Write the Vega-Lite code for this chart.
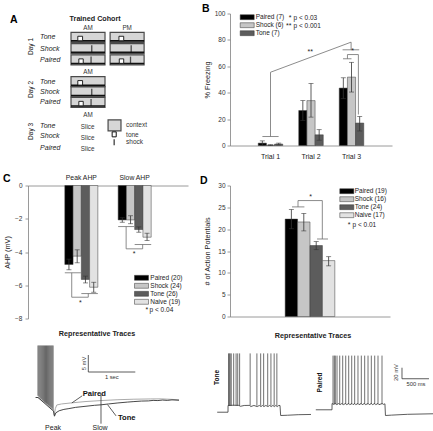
{
"$schema":"https://vega.github.io/schema/vega-lite/v6.json",
"background":"white",
"padding":{"left":2,"top":3.5,"right":0,"bottom":0},
"bounds":"flush",
"columns":2,
"spacing":{"row":0,"column":42},
"resolve":{"scale":{"color":"independent","xOffset":"independent"},"legend":{"color":"independent"}},
"datasets":{
 "freezing":[
  {"trial":"Trial 1","group":"Paired (7)","mean":1.8,"lo":0.2,"hi":3.5},
  {"trial":"Trial 1","group":"Shock (6)","mean":0.3,"lo":0,"hi":0.6},
  {"trial":"Trial 1","group":"Tone (7)","mean":1.1,"lo":0.4,"hi":1.8},
  {"trial":"Trial 2","group":"Paired (7)","mean":26.5,"lo":19,"hi":34},
  {"trial":"Trial 2","group":"Shock (6)","mean":34,"lo":21.5,"hi":47},
  {"trial":"Trial 2","group":"Tone (7)","mean":8.1,"lo":4,"hi":12},
  {"trial":"Trial 3","group":"Paired (7)","mean":43.5,"lo":35.5,"hi":51.3},
  {"trial":"Trial 3","group":"Shock (6)","mean":51.8,"lo":40.5,"hi":63},
  {"trial":"Trial 3","group":"Tone (7)","mean":17,"lo":11,"hi":22}
 ],
 "ahp":[
  {"phase":"Peak AHP","group":"Paired (20)","mean":-4.75,"lo":-5.07,"hi":-4.43},
  {"phase":"Peak AHP","group":"Shock (24)","mean":-4.25,"lo":-4.65,"hi":-3.87},
  {"phase":"Peak AHP","group":"Tone (26)","mean":-5.65,"lo":-5.86,"hi":-5.45},
  {"phase":"Peak AHP","group":"Naive (19)","mean":-6.12,"lo":-6.42,"hi":-5.82},
  {"phase":"Slow AHP","group":"Paired (20)","mean":-2.07,"lo":-2.21,"hi":-1.94},
  {"phase":"Slow AHP","group":"Shock (24)","mean":-2.07,"lo":-2.3,"hi":-1.82},
  {"phase":"Slow AHP","group":"Tone (26)","mean":-2.65,"lo":-2.81,"hi":-2.49},
  {"phase":"Slow AHP","group":"Naive (19)","mean":-3.11,"lo":-3.31,"hi":-2.87}
 ],
 "aps":[
  {"cat":"all","group":"Paired (19)","mean":22.3,"lo":20.1,"hi":24.5},
  {"cat":"all","group":"Shock (16)","mean":21.65,"lo":19.6,"hi":23.6},
  {"cat":"all","group":"Tone (24)","mean":16.25,"lo":15.3,"hi":17.15},
  {"cat":"all","group":"Naive (17)","mean":12.8,"lo":11.6,"hi":13.7}
 ],
 "aBoxes":[
  {"day":"Day 1","protocol":"Tone","session":"AM","row":1.75,"start":0,"end":10,"toneOn":2.0,"toneOff":3.4,"shock":null},
  {"day":"Day 1","protocol":"Shock","session":"AM","row":2.8,"start":0,"end":10,"toneOn":null,"toneOff":null,"shock":6.1},
  {"day":"Day 1","protocol":"Paired","session":"AM","row":3.85,"start":0,"end":10,"toneOn":2.3,"toneOff":3.6,"shock":5.9},
  {"day":"Day 1","protocol":"Tone","session":"PM","row":1.75,"start":11.5,"end":21.5,"toneOn":14.1,"toneOff":15.5,"shock":null},
  {"day":"Day 1","protocol":"Shock","session":"PM","row":2.8,"start":11.5,"end":21.5,"toneOn":null,"toneOff":null,"shock":17.7},
  {"day":"Day 1","protocol":"Paired","session":"PM","row":3.85,"start":11.5,"end":21.5,"toneOn":14.2,"toneOff":15.5,"shock":17.5},
  {"day":"Day 2","protocol":"Tone","session":"AM","row":5.87,"start":0,"end":10,"toneOn":2.0,"toneOff":3.4,"shock":null},
  {"day":"Day 2","protocol":"Shock","session":"AM","row":6.83,"start":0,"end":10,"toneOn":null,"toneOff":null,"shock":6.1},
  {"day":"Day 2","protocol":"Paired","session":"AM","row":7.8,"start":0,"end":10,"toneOn":2.3,"toneOff":3.6,"shock":5.9}
 ],
 "leftTraces":[
  {"trace":"Paired","t":-0.05,"v":0},{"trace":"Paired","t":0.0,"v":0},{"trace":"Paired","t":0.33,"v":-3.5},{"trace":"Paired","t":0.345,"v":-5.2},{"trace":"Paired","t":0.37,"v":-3.2},{"trace":"Paired","t":0.4,"v":-2.2},{"trace":"Paired","t":0.5,"v":-1.9},{"trace":"Paired","t":0.7,"v":-1.6},{"trace":"Paired","t":1.0,"v":-1.2},{"trace":"Paired","t":1.34,"v":-0.9},{"trace":"Paired","t":1.7,"v":-0.65},{"trace":"Paired","t":2.04,"v":-0.5},{"trace":"Paired","t":2.4,"v":-0.42},{"trace":"Paired","t":2.62,"v":-0.4},{"trace":"Paired","t":2.85,"v":-0.55},{"trace":"Paired","t":3.0,"v":-0.7},
  {"trace":"Tone","t":-0.05,"v":0},{"trace":"Tone","t":0.0,"v":0},{"trace":"Tone","t":0.33,"v":-4.0},{"trace":"Tone","t":0.35,"v":-5.5},{"trace":"Tone","t":0.38,"v":-4.5},{"trace":"Tone","t":0.45,"v":-3.9},{"trace":"Tone","t":0.55,"v":-3.5},{"trace":"Tone","t":0.64,"v":-3.3},{"trace":"Tone","t":0.8,"v":-2.9},{"trace":"Tone","t":1.0,"v":-2.6},{"trace":"Tone","t":1.2,"v":-2.3},{"trace":"Tone","t":1.34,"v":-2.15},{"trace":"Tone","t":1.5,"v":-1.9},{"trace":"Tone","t":1.7,"v":-1.6},{"trace":"Tone","t":1.9,"v":-1.35},{"trace":"Tone","t":2.04,"v":-1.2},{"trace":"Tone","t":2.2,"v":-1.05},{"trace":"Tone","t":2.35,"v":-1.0},{"trace":"Tone","t":2.45,"v":-0.85},{"trace":"Tone","t":2.55,"v":-0.9},{"trace":"Tone","t":2.65,"v":-0.75},{"trace":"Tone","t":2.75,"v":-0.85},{"trace":"Tone","t":2.85,"v":-0.7},{"trace":"Tone","t":3.0,"v":-0.8}
 ],
 "leftBurst":[
  {"t":0.0,"lo":0.5,"hi":15.3},{"t":0.02,"lo":0.2,"hi":15.3},{"t":0.04,"lo":-0.1,"hi":15.3},{"t":0.06,"lo":-0.4,"hi":15.3},{"t":0.08,"lo":-0.6,"hi":15.3},{"t":0.1,"lo":-0.9,"hi":15.3},{"t":0.12,"lo":-1.1,"hi":15.3},{"t":0.14,"lo":-1.4,"hi":15.3},{"t":0.16,"lo":-1.6,"hi":15.3},{"t":0.18,"lo":-1.9,"hi":15.3},{"t":0.2,"lo":-2.1,"hi":15.3},{"t":0.22,"lo":-2.4,"hi":15.3},{"t":0.24,"lo":-2.6,"hi":15.3},{"t":0.26,"lo":-2.9,"hi":15.3},{"t":0.28,"lo":-3.1,"hi":15.3},{"t":0.3,"lo":-3.4,"hi":15.3},{"t":0.32,"lo":-3.7,"hi":15.3}
 ],
 "toneTrace":[
  {"t":-0.2,"v":-64.7},{"t":0,"v":-64.7},{"t":0.001,"v":-52.5},{"t":0.1,"v":-52},{"t":0.2,"v":-52.3},{"t":0.23,"v":-54},{"t":0.3,"v":-52.5},{"t":0.4,"v":-52.3},{"t":0.42,"v":-54.5},{"t":0.48,"v":-52.5},{"t":0.54,"v":-54.5},{"t":0.58,"v":-52.5},{"t":0.61,"v":-54.5},{"t":0.64,"v":-52.5},{"t":0.665,"v":-54.5},{"t":0.7,"v":-52.5},{"t":0.74,"v":-54.5},{"t":0.77,"v":-52.5},{"t":0.8,"v":-54.5},{"t":0.83,"v":-52.5},{"t":0.86,"v":-54.5},{"t":0.885,"v":-52.5},{"t":0.91,"v":-54.5},{"t":0.94,"v":-52.5},{"t":0.963,"v":-52.5},{"t":0.975,"v":-70.7},{"t":1.1,"v":-70.2},{"t":1.3,"v":-69.2},{"t":1.537,"v":-68.8}
 ],
 "toneSpikes":[
  {"t":0.01,"lo":-53,"hi":42},{"t":0.025,"lo":-53,"hi":42},{"t":0.04,"lo":-53,"hi":42},{"t":0.06,"lo":-53,"hi":42},{"t":0.105,"lo":-53,"hi":42},{"t":0.15,"lo":-53,"hi":42},{"t":0.18,"lo":-53,"hi":42},{"t":0.215,"lo":-53,"hi":42},{"t":0.41,"lo":-53,"hi":42},{"t":0.535,"lo":-53,"hi":42},{"t":0.605,"lo":-53,"hi":42},{"t":0.66,"lo":-53,"hi":42},{"t":0.735,"lo":-53,"hi":42},{"t":0.795,"lo":-53,"hi":42},{"t":0.855,"lo":-53,"hi":42},{"t":0.905,"lo":-53,"hi":42}
 ],
 "pairedTrace":[
  {"t":-0.3,"v":-60.3},{"t":0,"v":-60.3},{"t":0.001,"v":-49},{"t":0.03,"v":-50.5},{"t":0.06,"v":-49},{"t":0.09,"v":-51},{"t":0.12,"v":-49},{"t":0.15,"v":-51},{"t":0.18,"v":-49},{"t":0.21,"v":-51},{"t":0.25,"v":-49},{"t":0.27,"v":-51},{"t":0.31,"v":-49},{"t":0.33,"v":-51},{"t":0.37,"v":-49},{"t":0.39,"v":-51},{"t":0.42,"v":-49},{"t":0.44,"v":-51},{"t":0.48,"v":-49},{"t":0.5,"v":-51},{"t":0.54,"v":-49},{"t":0.56,"v":-51},{"t":0.6,"v":-49},{"t":0.62,"v":-51},{"t":0.67,"v":-49},{"t":0.69,"v":-51},{"t":0.73,"v":-49},{"t":0.75,"v":-51},{"t":0.79,"v":-49},{"t":0.81,"v":-51},{"t":0.85,"v":-49},{"t":0.87,"v":-51},{"t":0.93,"v":-49},{"t":0.95,"v":-50.5},{"t":0.98,"v":-49.5},{"t":0.99,"v":-70.7},{"t":1.1,"v":-70},{"t":1.4,"v":-68.5},{"t":1.89,"v":-67.5}
 ],
 "pairedSpikes":[
  {"t":0.019,"lo":-50,"hi":38},{"t":0.043,"lo":-50,"hi":38},{"t":0.061,"lo":-50,"hi":38},{"t":0.093,"lo":-50,"hi":38},{"t":0.143,"lo":-50,"hi":38},{"t":0.198,"lo":-50,"hi":38},{"t":0.254,"lo":-50,"hi":38},{"t":0.309,"lo":-50,"hi":38},{"t":0.365,"lo":-50,"hi":38},{"t":0.42,"lo":-50,"hi":38},{"t":0.481,"lo":-50,"hi":38},{"t":0.543,"lo":-50,"hi":38},{"t":0.605,"lo":-50,"hi":38},{"t":0.667,"lo":-50,"hi":38},{"t":0.728,"lo":-50,"hi":38},{"t":0.791,"lo":-50,"hi":38},{"t":0.852,"lo":-50,"hi":38},{"t":0.926,"lo":-50,"hi":38}
 ]
},
"concat":[
  {"width":160,"height":172,"layer":[
   {"data":{"name":"aBoxes"},"mark":{"type":"bar","height":10,"fill":"#d6d6d6","stroke":"#4a4a4a","strokeWidth":1.2},
    "encoding":{"x":{"field":"start","type":"quantitative","scale":{"domain":[-12.65,34.41],"nice":false,"zero":false},"axis":null},"x2":{"field":"end"},"y":{"field":"row","type":"quantitative","scale":{"domain":[0,15.06],"nice":false,"zero":false,"reverse":true},"axis":null}}},
   {"data":{"name":"aBoxes"},"mark":{"type":"rule","yOffset":3.6,"strokeWidth":1.6,"color":"#111111"},
    "encoding":{"x":{"field":"start","type":"quantitative","scale":{"domain":[-12.65,34.41],"nice":false,"zero":false},"axis":null},"x2":{"field":"end"},"y":{"field":"row","type":"quantitative","scale":{"domain":[0,15.06],"nice":false,"zero":false,"reverse":true},"axis":null}}},
   {"data":{"name":"aBoxes"},"transform":[{"filter":"datum.toneOn != null"}],"mark":{"type":"bar","height":4.5,"yOffset":1.2,"fill":"white","stroke":"#111111","strokeWidth":0.9},
    "encoding":{"x":{"field":"toneOn","type":"quantitative","scale":{"domain":[-12.65,34.41],"nice":false,"zero":false},"axis":null},"x2":{"field":"toneOff"},"y":{"field":"row","type":"quantitative","scale":{"domain":[0,15.06],"nice":false,"zero":false,"reverse":true},"axis":null}}},
   {"data":{"name":"aBoxes"},"transform":[{"filter":"datum.shock != null"}],"mark":{"type":"tick","orient":"vertical","size":7,"thickness":1.3,"color":"#111111","yOffset":0.2},
    "encoding":{"x":{"field":"shock","type":"quantitative","scale":{"domain":[-12.65,34.41],"nice":false,"zero":false},"axis":null},"y":{"field":"row","type":"quantitative","scale":{"domain":[0,15.06],"nice":false,"zero":false,"reverse":true},"axis":null}}},
   {"data":{"values":[{"item":"context","x1":10.9,"x2":14.7,"row":9.94}]},"mark":{"type":"bar","height":11,"fill":"#d6d6d6","stroke":"#4a4a4a","strokeWidth":1.2},
    "encoding":{"x":{"field":"x1","type":"quantitative","scale":{"domain":[-12.65,34.41],"nice":false,"zero":false},"axis":null},"x2":{"field":"x2"},"y":{"field":"row","type":"quantitative","scale":{"domain":[0,15.06],"nice":false,"zero":false,"reverse":true},"axis":null}}},
   {"data":{"values":[{"item":"tone","x1":12.1,"x2":13.3,"row":10.77}]},"mark":{"type":"bar","height":5,"fill":"white","stroke":"#111111","strokeWidth":1},
    "encoding":{"x":{"field":"x1","type":"quantitative","scale":{"domain":[-12.65,34.41],"nice":false,"zero":false},"axis":null},"x2":{"field":"x2"},"y":{"field":"row","type":"quantitative","scale":{"domain":[0,15.06],"nice":false,"zero":false,"reverse":true},"axis":null}}},
   {"data":{"values":[{"item":"shock","x":12.7,"row":11.5}]},"mark":{"type":"tick","orient":"vertical","size":6,"thickness":1.5,"color":"#111111"},
    "encoding":{"x":{"field":"x","type":"quantitative","scale":{"domain":[-12.65,34.41],"nice":false,"zero":false},"axis":null},"y":{"field":"row","type":"quantitative","scale":{"domain":[0,15.06],"nice":false,"zero":false,"reverse":true},"axis":null}}},
   {"data":{"values":[{"label":"Tone","x":-9.1,"row":1.75},{"label":"Shock","x":-9.1,"row":2.8},{"label":"Paired","x":-9.1,"row":3.85},{"label":"Tone","x":-9.1,"row":5.87},{"label":"Shock","x":-9.1,"row":6.83},{"label":"Paired","x":-9.1,"row":7.8},{"label":"Tone","x":-9.1,"row":9.96},{"label":"Shock","x":-9.1,"row":10.92},{"label":"Paired","x":-9.1,"row":12.06}]},
    "mark":{"type":"text","align":"left","baseline":"middle","fontStyle":"italic","fontSize":7,"color":"#222222"},
    "encoding":{"x":{"field":"x","type":"quantitative","scale":{"domain":[-12.65,34.41],"nice":false,"zero":false},"axis":null},"y":{"field":"row","type":"quantitative","scale":{"domain":[0,15.06],"nice":false,"zero":false,"reverse":true},"axis":null},"text":{"field":"label"}}},
   {"data":{"values":[{"label":"Day 1","x":-11.8,"row":2.6},{"label":"Day 2","x":-11.8,"row":6.6},{"label":"Day 3","x":-11.8,"row":10.5}]},
    "mark":{"type":"text","align":"center","baseline":"middle","angle":270,"fontSize":6.5,"color":"#111111"},
    "encoding":{"x":{"field":"x","type":"quantitative","scale":{"domain":[-12.65,34.41],"nice":false,"zero":false},"axis":null},"y":{"field":"row","type":"quantitative","scale":{"domain":[0,15.06],"nice":false,"zero":false,"reverse":true},"axis":null},"text":{"field":"label"}}},
   {"data":{"values":[{"label":"Trained Cohort","x":7.1,"row":0}]},
    "mark":{"type":"text","align":"center","baseline":"middle","fontWeight":"bold","fontSize":7.2,"color":"#222222"},
    "encoding":{"x":{"field":"x","type":"quantitative","scale":{"domain":[-12.65,34.41],"nice":false,"zero":false},"axis":null},"y":{"field":"row","type":"quantitative","scale":{"domain":[0,15.06],"nice":false,"zero":false,"reverse":true},"axis":null},"text":{"field":"label"}}},
   {"data":{"values":[{"label":"AM","x":5,"row":0.9},{"label":"PM","x":16.5,"row":0.9},{"label":"AM","x":5,"row":5.0},{"label":"AM","x":5,"row":9.0},{"label":"Slice","x":4.9,"row":10.1},{"label":"Slice","x":4.9,"row":11.1},{"label":"Slice","x":4.9,"row":12.15}]},
    "mark":{"type":"text","align":"center","baseline":"middle","fontSize":6.3,"color":"#333333"},
    "encoding":{"x":{"field":"x","type":"quantitative","scale":{"domain":[-12.65,34.41],"nice":false,"zero":false},"axis":null},"y":{"field":"row","type":"quantitative","scale":{"domain":[0,15.06],"nice":false,"zero":false,"reverse":true},"axis":null},"text":{"field":"label"}}},
   {"data":{"values":[{"label":"context","x":16.2,"row":9.94},{"label":"tone","x":16.2,"row":10.87},{"label":"shock","x":16.2,"row":11.5}]},
    "mark":{"type":"text","align":"left","baseline":"middle","fontSize":6.5,"color":"#333333"},
    "encoding":{"x":{"field":"x","type":"quantitative","scale":{"domain":[-12.65,34.41],"nice":false,"zero":false},"axis":null},"y":{"field":"row","type":"quantitative","scale":{"domain":[0,15.06],"nice":false,"zero":false,"reverse":true},"axis":null},"text":{"field":"label"}}},
   {"data":{"values":[{"label":"A","x":-17.94,"row":-0.31}]},
    "mark":{"type":"text","align":"left","baseline":"top","fontWeight":"bold","fontSize":10.5,"color":"#000000"},
    "encoding":{"x":{"field":"x","type":"quantitative","scale":{"domain":[-12.65,34.41],"nice":false,"zero":false},"axis":null},"y":{"field":"row","type":"quantitative","scale":{"domain":[0,15.06],"nice":false,"zero":false,"reverse":true},"axis":null},"text":{"field":"label"}}}
  ]},
  {"width":162,"height":132,
   "resolve":{"scale":{"x":"independent"},"axis":{"x":"independent"}},
   "layer":[
    {"data":{"name":"freezing"},
     "encoding":{
      "x":{"field":"trial","type":"nominal","scale":{"type":"band","paddingInner":0.395,"paddingOuter":0.6975},"axis":{"title":null,"labelAngle":0,"ticks":false,"tickSize":0,"labelFontSize":7,"labelColor":"#222222","labelPadding":6.5}},
      "xOffset":{"field":"group","type":"nominal","sort":["Paired (7)","Shock (6)","Tone (7)"],"scale":{"paddingInner":0,"paddingOuter":0}}
     },
     "layer":[
      {"mark":{"type":"bar","stroke":"#3a3a3a","strokeWidth":0.5},
       "encoding":{"y":{"field":"mean","type":"quantitative","scale":{"domain":[0,100],"nice":false},"axis":{"title":"% Freezing","values":[0,20,40,60,80,100],"titlePadding":3,"labelPadding":2,"labelOverlap":false,"labelFlush":false,"zindex":1}},
        "color":{"field":"group","type":"nominal","scale":{"domain":["Paired (7)","Shock (6)","Tone (7)"],"range":["#000000","#c6c6c6","#5c5c5c"]},"legend":{"title":null,"orient":"none","legendX":13.2,"legendY":-0.3,"labelOffset":4.5}}}},
      {"mark":{"type":"rule","color":"#333333","strokeWidth":0.8},
       "encoding":{"y":{"field":"lo","type":"quantitative","scale":{"domain":[0,100],"nice":false},"axis":{"title":"% Freezing","values":[0,20,40,60,80,100],"titlePadding":3,"labelPadding":2,"labelOverlap":false,"labelFlush":false,"zindex":1}},"y2":{"field":"hi"}}},
      {"mark":{"type":"tick","color":"#333333","thickness":0.8,"size":5},
       "encoding":{"y":{"field":"hi","type":"quantitative","scale":{"domain":[0,100],"nice":false},"axis":{"title":"% Freezing","values":[0,20,40,60,80,100],"titlePadding":3,"labelPadding":2,"labelOverlap":false,"labelFlush":false,"zindex":1}}}},
      {"mark":{"type":"tick","color":"#333333","thickness":0.8,"size":5},
       "encoding":{"y":{"field":"lo","type":"quantitative","scale":{"domain":[0,100],"nice":false},"axis":{"title":"% Freezing","values":[0,20,40,60,80,100],"titlePadding":3,"labelPadding":2,"labelOverlap":false,"labelFlush":false,"zindex":1}}}}
     ]},
    {"data":{"values":[
      {"x":0.8,"x2":1.2,"y":6.8,"y2":6.8},{"x":1.0,"x2":1.0,"y":6.8,"y2":55.5},{"x":1.0,"x2":2.99,"y":55.5,"y2":78.3},{"x":2.99,"x2":2.99,"y":78.3,"y2":72.5},{"x":2.78,"x2":3.19,"y":72.5,"y2":72.5},
      {"x":2.79,"x2":3.0,"y":65.7,"y2":65.7},{"x":2.9,"x2":2.9,"y":65.7,"y2":68.9},{"x":2.9,"x2":3.17,"y":68.9,"y2":68.9},{"x":3.17,"x2":3.17,"y":68.9,"y2":23.5}]},
     "mark":{"type":"rule","color":"#6e6e6e","strokeWidth":0.8},
     "encoding":{"x":{"field":"x","type":"quantitative","scale":{"domain":[0,4],"nice":false,"zero":false},"axis":null},"x2":{"field":"x2"},"y":{"field":"y","type":"quantitative","scale":{"domain":[0,100],"nice":false},"axis":{"title":"% Freezing","values":[0,20,40,60,80,100],"titlePadding":3,"labelPadding":2,"labelOverlap":false,"labelFlush":false,"zindex":1}},"y2":{"field":"y2"}}},
    {"data":{"values":[{"x":1.98,"y":70.7,"label":"**"},{"x":3.03,"y":71.5,"label":"*"}]},
     "mark":{"type":"text","align":"center","baseline":"middle","fontSize":7,"color":"#222222"},
     "encoding":{"x":{"field":"x","type":"quantitative","scale":{"domain":[0,4],"nice":false,"zero":false},"axis":null},"y":{"field":"y","type":"quantitative","scale":{"domain":[0,100],"nice":false},"axis":{"title":"% Freezing","values":[0,20,40,60,80,100],"titlePadding":3,"labelPadding":2,"labelOverlap":false,"labelFlush":false,"zindex":1}},"text":{"field":"label"}}},
    {"data":{"values":[{"x":1.52,"y":96.7,"label":"*"},{"x":1.52,"y":90.4,"label":"**"}]},
     "mark":{"type":"text","align":"right","baseline":"middle","fontSize":7,"color":"#222222"},
     "encoding":{"x":{"field":"x","type":"quantitative","scale":{"domain":[0,4],"nice":false,"zero":false},"axis":null},"y":{"field":"y","type":"quantitative","scale":{"domain":[0,100],"nice":false},"axis":{"title":"% Freezing","values":[0,20,40,60,80,100],"titlePadding":3,"labelPadding":2,"labelOverlap":false,"labelFlush":false,"zindex":1}},"text":{"field":"label"}}},
    {"data":{"values":[{"x":1.568,"y":96.7,"label":"p < 0.03"},{"x":1.568,"y":90.4,"label":"p < 0.001"}]},
     "mark":{"type":"text","align":"left","baseline":"middle","fontSize":6.5,"color":"#222222"},
     "encoding":{"x":{"field":"x","type":"quantitative","scale":{"domain":[0,4],"nice":false,"zero":false},"axis":null},"y":{"field":"y","type":"quantitative","scale":{"domain":[0,100],"nice":false},"axis":{"title":"% Freezing","values":[0,20,40,60,80,100],"titlePadding":3,"labelPadding":2,"labelOverlap":false,"labelFlush":false,"zindex":1}},"text":{"field":"label"}}},
    {"data":{"values":[{"x":-0.69,"y":107.2,"label":"B"}]},
     "mark":{"type":"text","align":"left","baseline":"top","fontWeight":"bold","fontSize":10.5,"color":"#000000"},
     "encoding":{"x":{"field":"x","type":"quantitative","scale":{"domain":[0,4],"nice":false,"zero":false},"axis":null},"y":{"field":"y","type":"quantitative","scale":{"domain":[0,100],"nice":false},"axis":{"title":"% Freezing","values":[0,20,40,60,80,100],"titlePadding":3,"labelPadding":2,"labelOverlap":false,"labelFlush":false,"zindex":1}},"text":{"field":"label"}}}
   ]},
  {"width":160,"height":133,
   "resolve":{"scale":{"x":"independent"},"axis":{"x":"independent"}},
   "layer":[
    {"data":{"name":"ahp"},
     "encoding":{
      "x":{"field":"phase","type":"nominal","scale":{"type":"band","paddingInner":0.381,"paddingOuter":0.69},"axis":{"orient":"top","title":null,"labelAngle":0,"ticks":false,"tickSize":0,"labelFontSize":6.8,"labelColor":"#222222","labelPadding":5}},
      "xOffset":{"field":"group","type":"nominal","sort":["Paired (20)","Shock (24)","Tone (26)","Naive (19)"],"scale":{"paddingInner":0,"paddingOuter":0}}
     },
     "layer":[
      {"mark":{"type":"bar","stroke":"#3a3a3a","strokeWidth":0.5},
       "encoding":{"y":{"field":"mean","type":"quantitative","scale":{"domain":[-8,0],"nice":false},"axis":{"title":"AHP (mV)","values":[0,-2,-4,-6,-8],"labelPadding":3,"titlePadding":3,"labelOverlap":false,"labelFlush":false}},
        "color":{"field":"group","type":"nominal","scale":{"domain":["Paired (20)","Shock (24)","Tone (26)","Naive (19)"],"range":["#000000","#c6c6c6","#5c5c5c","#e2e2e2"]},"legend":{"title":null,"orient":"none","legendX":109.5,"legendY":88.3,"labelOffset":4.8}}}},
      {"mark":{"type":"rule","color":"#333333","strokeWidth":0.8},
       "encoding":{"y":{"field":"lo","type":"quantitative","scale":{"domain":[-8,0],"nice":false},"axis":{"title":"AHP (mV)","values":[0,-2,-4,-6,-8],"labelPadding":3,"titlePadding":3,"labelOverlap":false,"labelFlush":false}},"y2":{"field":"hi"}}},
      {"mark":{"type":"tick","color":"#333333","thickness":0.8,"size":5},
       "encoding":{"y":{"field":"hi","type":"quantitative","scale":{"domain":[-8,0],"nice":false},"axis":{"title":"AHP (mV)","values":[0,-2,-4,-6,-8],"labelPadding":3,"titlePadding":3,"labelOverlap":false,"labelFlush":false}}}},
      {"mark":{"type":"tick","color":"#333333","thickness":0.8,"size":5},
       "encoding":{"y":{"field":"lo","type":"quantitative","scale":{"domain":[-8,0],"nice":false},"axis":{"title":"AHP (mV)","values":[0,-2,-4,-6,-8],"labelPadding":3,"titlePadding":3,"labelOverlap":false,"labelFlush":false}}}}
     ]},
    {"data":{"values":[
      {"x":0.69,"x2":0.99,"y":-5.25,"y2":-5.25},{"x":0.82,"x2":0.82,"y":-5.25,"y2":-6.72},{"x":0.82,"x2":1.13,"y":-6.72,"y2":-6.72},{"x":1.13,"x2":1.13,"y":-6.72,"y2":-6.5},{"x":1.0,"x2":1.31,"y":-6.5,"y2":-6.5},
      {"x":1.69,"x2":1.99,"y":-2.47,"y2":-2.47},{"x":1.84,"x2":1.84,"y":-2.47,"y2":-3.81},{"x":1.84,"x2":2.15,"y":-3.81,"y2":-3.81},{"x":2.15,"x2":2.15,"y":-3.81,"y2":-3.55},{"x":2.0,"x2":2.31,"y":-3.55,"y2":-3.55}]},
     "mark":{"type":"rule","color":"#6e6e6e","strokeWidth":0.8},
     "encoding":{"x":{"field":"x","type":"quantitative","scale":{"domain":[0,3],"nice":false,"zero":false},"axis":null},"x2":{"field":"x2"},"y":{"field":"y","type":"quantitative","scale":{"domain":[-8,0],"nice":false},"axis":{"title":"AHP (mV)","values":[0,-2,-4,-6,-8],"labelPadding":3,"titlePadding":3,"labelOverlap":false,"labelFlush":false}},"y2":{"field":"y2"}}},
    {"data":{"values":[{"x":0.98,"y":-7.05,"label":"*"},{"x":1.99,"y":-4.1,"label":"*"},{"x":2.23,"y":-7.46,"label":"*"}]},
     "mark":{"type":"text","align":"center","baseline":"middle","fontSize":7,"color":"#222222"},
     "encoding":{"x":{"field":"x","type":"quantitative","scale":{"domain":[0,3],"nice":false,"zero":false},"axis":null},"y":{"field":"y","type":"quantitative","scale":{"domain":[-8,0],"nice":false},"axis":{"title":"AHP (mV)","values":[0,-2,-4,-6,-8],"labelPadding":3,"titlePadding":3,"labelOverlap":false,"labelFlush":false}},"text":{"field":"label"}}},
    {"data":{"values":[{"x":2.28,"y":-7.46,"label":"p < 0.04"}]},
     "mark":{"type":"text","align":"left","baseline":"middle","fontSize":6.5,"color":"#222222"},
     "encoding":{"x":{"field":"x","type":"quantitative","scale":{"domain":[0,3],"nice":false,"zero":false},"axis":null},"y":{"field":"y","type":"quantitative","scale":{"domain":[-8,0],"nice":false},"axis":{"title":"AHP (mV)","values":[0,-2,-4,-6,-8],"labelPadding":3,"titlePadding":3,"labelOverlap":false,"labelFlush":false}},"text":{"field":"label"}}},
    {"data":{"values":[{"x":-0.469,"y":0.69,"label":"C"}]},
     "mark":{"type":"text","align":"left","baseline":"top","fontWeight":"bold","fontSize":10.5,"color":"#000000"},
     "encoding":{"x":{"field":"x","type":"quantitative","scale":{"domain":[0,3],"nice":false,"zero":false},"axis":null},"y":{"field":"y","type":"quantitative","scale":{"domain":[-8,0],"nice":false},"axis":{"title":"AHP (mV)","values":[0,-2,-4,-6,-8],"labelPadding":3,"titlePadding":3,"labelOverlap":false,"labelFlush":false}},"text":{"field":"label"}}}
   ]},
  {"width":160,"height":131,
   "resolve":{"scale":{"x":"independent"},"axis":{"x":"independent"}},
   "layer":[
    {"data":{"name":"aps"},
     "encoding":{
      "x":{"field":"cat","type":"nominal","scale":{"type":"band","paddingInner":0.1,"paddingOuter":1},"axis":{"title":null,"labels":false,"ticks":false,"tickSize":0}},
      "xOffset":{"field":"group","type":"nominal","sort":["Paired (19)","Shock (16)","Tone (24)","Naive (17)"],"scale":{"paddingInner":0,"paddingOuter":0}}
     },
     "layer":[
      {"mark":{"type":"bar","stroke":"#3a3a3a","strokeWidth":0.5},
       "encoding":{"y":{"field":"mean","type":"quantitative","scale":{"domain":[0,30],"nice":false},"axis":{"title":"# of Action Potentials","values":[0,5,10,15,20,25,30],"titlePadding":6,"labelPadding":2,"labelOverlap":false,"labelFlush":false,"zindex":1}},
        "color":{"field":"group","type":"nominal","scale":{"domain":["Paired (19)","Shock (16)","Tone (24)","Naive (17)"],"range":["#000000","#c6c6c6","#5c5c5c","#e2e2e2"]},"legend":{"title":null,"orient":"none","legendX":112.8,"legendY":1.7,"labelOffset":3.9}}}},
      {"mark":{"type":"rule","color":"#333333","strokeWidth":0.8},
       "encoding":{"y":{"field":"lo","type":"quantitative","scale":{"domain":[0,30],"nice":false},"axis":{"title":"# of Action Potentials","values":[0,5,10,15,20,25,30],"titlePadding":6,"labelPadding":2,"labelOverlap":false,"labelFlush":false,"zindex":1}},"y2":{"field":"hi"}}},
      {"mark":{"type":"tick","color":"#333333","thickness":0.8,"size":5},
       "encoding":{"y":{"field":"hi","type":"quantitative","scale":{"domain":[0,30],"nice":false},"axis":{"title":"# of Action Potentials","values":[0,5,10,15,20,25,30],"titlePadding":6,"labelPadding":2,"labelOverlap":false,"labelFlush":false,"zindex":1}}}},
      {"mark":{"type":"tick","color":"#333333","thickness":0.8,"size":5},
       "encoding":{"y":{"field":"lo","type":"quantitative","scale":{"domain":[0,30],"nice":false},"axis":{"title":"# of Action Potentials","values":[0,5,10,15,20,25,30],"titlePadding":6,"labelPadding":2,"labelOverlap":false,"labelFlush":false,"zindex":1}}}}
     ]},
    {"data":{"values":[
      {"x":0.3875,"x2":0.465,"y":25.1,"y2":25.1},{"x":0.425,"x2":0.425,"y":25.1,"y2":26.55},{"x":0.425,"x2":0.577,"y":26.55,"y2":26.55},{"x":0.577,"x2":0.577,"y":26.55,"y2":17.75},{"x":0.544,"x2":0.6125,"y":17.75,"y2":17.75}]},
     "mark":{"type":"rule","color":"#6e6e6e","strokeWidth":0.8},
     "encoding":{"x":{"field":"x","type":"quantitative","scale":{"domain":[0,1],"nice":false,"zero":false},"axis":null},"x2":{"field":"x2"},"y":{"field":"y","type":"quantitative","scale":{"domain":[0,30],"nice":false},"axis":{"title":"# of Action Potentials","values":[0,5,10,15,20,25,30],"titlePadding":6,"labelPadding":2,"labelOverlap":false,"labelFlush":false,"zindex":1}},"y2":{"field":"y2"}}},
    {"data":{"values":[{"x":0.504,"y":27.3,"label":"*"},{"x":0.745,"y":21.05,"label":"*"}]},
     "mark":{"type":"text","align":"center","baseline":"middle","fontSize":7,"color":"#222222"},
     "encoding":{"x":{"field":"x","type":"quantitative","scale":{"domain":[0,1],"nice":false,"zero":false},"axis":null},"y":{"field":"y","type":"quantitative","scale":{"domain":[0,30],"nice":false},"axis":{"title":"# of Action Potentials","values":[0,5,10,15,20,25,30],"titlePadding":6,"labelPadding":2,"labelOverlap":false,"labelFlush":false,"zindex":1}},"text":{"field":"label"}}},
    {"data":{"values":[{"x":0.766,"y":21.05,"label":"p < 0.01"}]},
     "mark":{"type":"text","align":"left","baseline":"middle","fontSize":6.5,"color":"#222222"},
     "encoding":{"x":{"field":"x","type":"quantitative","scale":{"domain":[0,1],"nice":false,"zero":false},"axis":null},"y":{"field":"y","type":"quantitative","scale":{"domain":[0,30],"nice":false},"axis":{"title":"# of Action Potentials","values":[0,5,10,15,20,25,30],"titlePadding":6,"labelPadding":2,"labelOverlap":false,"labelFlush":false,"zindex":1}},"text":{"field":"label"}}},
    {"data":{"values":[{"x":-0.1875,"y":32.1,"label":"D"}]},
     "mark":{"type":"text","align":"left","baseline":"top","fontWeight":"bold","fontSize":10.5,"color":"#000000"},
     "encoding":{"x":{"field":"x","type":"quantitative","scale":{"domain":[0,1],"nice":false,"zero":false},"axis":null},"y":{"field":"y","type":"quantitative","scale":{"domain":[0,30],"nice":false},"axis":{"title":"# of Action Potentials","values":[0,5,10,15,20,25,30],"titlePadding":6,"labelPadding":2,"labelOverlap":false,"labelFlush":false,"zindex":1}},"text":{"field":"label"}}}
   ]},
  {"width":160,"height":113,"layer":[
   {"data":{"name":"leftBurst"},"mark":{"type":"rule","color":"#555555","strokeWidth":0.9},
    "encoding":{"x":{"field":"t","type":"quantitative","scale":{"domain":[-0.213,3.191],"nice":false,"zero":false},"axis":null},"y":{"field":"lo","type":"quantitative","scale":{"domain":[-10,23.24],"nice":false,"zero":false},"axis":null},"y2":{"field":"hi"}}},
   {"data":{"name":"leftTraces"},"mark":{"type":"line","strokeWidth":0.9},
    "encoding":{"x":{"field":"t","type":"quantitative","scale":{"domain":[-0.213,3.191],"nice":false,"zero":false},"axis":null},"y":{"field":"v","type":"quantitative","scale":{"domain":[-10,23.24],"nice":false,"zero":false},"axis":null},"color":{"field":"trace","type":"nominal","scale":{"domain":["Paired","Tone"],"range":["#a0a0a0","#333333"]},"legend":null}}},
   {"data":{"values":[{"x":1.34,"x2":1.34,"y":1.1,"y2":-7.7},{"x":1.07,"x2":1.07,"y":7.5,"y2":12.5},{"x":1.07,"x2":2.07,"y":7.5,"y2":7.5},{"x":0.94,"x2":0.72,"y":0.5,"y2":-1.6},{"x":1.66,"x2":1.48,"y":-5.4,"y2":-2.1}]},
    "mark":{"type":"rule","color":"#333333","strokeWidth":0.8},
    "encoding":{"x":{"field":"x","type":"quantitative","scale":{"domain":[-0.213,3.191],"nice":false,"zero":false},"axis":null},"x2":{"field":"x2"},"y":{"field":"y","type":"quantitative","scale":{"domain":[-10,23.24],"nice":false,"zero":false},"axis":null},"y2":{"field":"y2"}}},
   {"data":{"values":[{"x":1.255,"y":18.8,"label":"Representative Traces"}]},
    "mark":{"type":"text","align":"center","baseline":"middle","fontWeight":"bold","fontSize":7.2,"color":"#222222"},
    "encoding":{"x":{"field":"x","type":"quantitative","scale":{"domain":[-0.213,3.191],"nice":false,"zero":false},"axis":null},"y":{"field":"y","type":"quantitative","scale":{"domain":[-10,23.24],"nice":false,"zero":false},"axis":null},"text":{"field":"label"}}},
   {"data":{"values":[{"x":0.95,"y":0.9,"label":"Paired"},{"x":1.7,"y":-6.0,"label":"Tone"}]},
    "mark":{"type":"text","align":"left","baseline":"middle","fontWeight":"bold","fontSize":7.6,"color":"#111111"},
    "encoding":{"x":{"field":"x","type":"quantitative","scale":{"domain":[-0.213,3.191],"nice":false,"zero":false},"axis":null},"y":{"field":"y","type":"quantitative","scale":{"domain":[-10,23.24],"nice":false,"zero":false},"axis":null},"text":{"field":"label"}}},
   {"data":{"values":[{"x":0.32,"y":-9.1,"label":"Peak"},{"x":1.32,"y":-9.1,"label":"Slow"}]},
    "mark":{"type":"text","align":"center","baseline":"middle","fontSize":7,"color":"#222222"},
    "encoding":{"x":{"field":"x","type":"quantitative","scale":{"domain":[-0.213,3.191],"nice":false,"zero":false},"axis":null},"y":{"field":"y","type":"quantitative","scale":{"domain":[-10,23.24],"nice":false,"zero":false},"axis":null},"text":{"field":"label"}}},
   {"data":{"values":[{"x":1.57,"y":6.0,"label":"1 sec"}]},
    "mark":{"type":"text","align":"center","baseline":"middle","fontSize":5.8,"color":"#333333"},
    "encoding":{"x":{"field":"x","type":"quantitative","scale":{"domain":[-0.213,3.191],"nice":false,"zero":false},"axis":null},"y":{"field":"y","type":"quantitative","scale":{"domain":[-10,23.24],"nice":false,"zero":false},"axis":null},"text":{"field":"label"}}},
   {"data":{"values":[{"x":0.98,"y":10.0,"label":"5 mV"}]},
    "mark":{"type":"text","align":"center","baseline":"middle","angle":270,"fontSize":5.8,"color":"#333333"},
    "encoding":{"x":{"field":"x","type":"quantitative","scale":{"domain":[-0.213,3.191],"nice":false,"zero":false},"axis":null},"y":{"field":"y","type":"quantitative","scale":{"domain":[-10,23.24],"nice":false,"zero":false},"axis":null},"text":{"field":"label"}}}
  ]},
  {"width":160,"height":106,
   "resolve":{"scale":{"x":"independent"}},
   "layer":[
    {"data":{"name":"toneSpikes"},"mark":{"type":"rule","color":"#333333","strokeWidth":0.7},
     "encoding":{"x":{"field":"t","type":"quantitative","scale":{"domain":[0.037,3.0],"nice":false,"zero":false},"axis":null},"y":{"field":"lo","type":"quantitative","scale":{"domain":[-87,105.3],"nice":false,"zero":false},"axis":null},"y2":{"field":"hi"}}},
    {"data":{"name":"toneTrace"},"mark":{"type":"line","color":"#333333","strokeWidth":0.8},
     "encoding":{"x":{"field":"t","type":"quantitative","scale":{"domain":[0.037,3.0],"nice":false,"zero":false},"axis":null},"y":{"field":"v","type":"quantitative","scale":{"domain":[-87,105.3],"nice":false,"zero":false},"axis":null}}},
    {"data":{"values":[{"x":-0.204,"y":-1.7,"label":"Tone"}]},
     "mark":{"type":"text","align":"center","baseline":"middle","angle":270,"fontWeight":"bold","fontSize":6.5,"color":"#111111"},
     "encoding":{"x":{"field":"x","type":"quantitative","scale":{"domain":[0.037,3.0],"nice":false,"zero":false},"axis":null},"y":{"field":"y","type":"quantitative","scale":{"domain":[-87,105.3],"nice":false,"zero":false},"axis":null},"text":{"field":"label"}}},
    {"data":{"values":[{"x":1.574,"y":72.7,"label":"Representative Traces"}]},
     "mark":{"type":"text","align":"center","baseline":"middle","fontWeight":"bold","fontSize":7.2,"color":"#222222"},
     "encoding":{"x":{"field":"x","type":"quantitative","scale":{"domain":[0.037,3.0],"nice":false,"zero":false},"axis":null},"y":{"field":"y","type":"quantitative","scale":{"domain":[-87,105.3],"nice":false,"zero":false},"axis":null},"text":{"field":"label"}}},
    {"data":{"name":"pairedSpikes"},"mark":{"type":"rule","color":"#333333","strokeWidth":0.7},
     "encoding":{"x":{"field":"t","type":"quantitative","scale":{"domain":[-1.889,1.074],"nice":false,"zero":false},"axis":null},"y":{"field":"lo","type":"quantitative","scale":{"domain":[-87,105.3],"nice":false,"zero":false},"axis":null},"y2":{"field":"hi"}}},
    {"data":{"name":"pairedTrace"},"mark":{"type":"line","color":"#333333","strokeWidth":0.8},
     "encoding":{"x":{"field":"t","type":"quantitative","scale":{"domain":[-1.889,1.074],"nice":false,"zero":false},"axis":null},"y":{"field":"v","type":"quantitative","scale":{"domain":[-87,105.3],"nice":false,"zero":false},"axis":null}}},
    {"data":{"values":[{"x":1.296,"x2":1.296,"y":-4,"y2":16},{"x":1.296,"x2":1.796,"y":-4,"y2":-4}]},
     "mark":{"type":"rule","color":"#333333","strokeWidth":0.8},
     "encoding":{"x":{"field":"x","type":"quantitative","scale":{"domain":[-1.889,1.074],"nice":false,"zero":false},"axis":null},"x2":{"field":"x2"},"y":{"field":"y","type":"quantitative","scale":{"domain":[-87,105.3],"nice":false,"zero":false},"axis":null},"y2":{"field":"y2"}}},
    {"data":{"values":[{"x":-0.222,"y":-10.8,"label":"Paired"}]},
     "mark":{"type":"text","align":"center","baseline":"middle","angle":270,"fontWeight":"bold","fontSize":6.5,"color":"#111111"},
     "encoding":{"x":{"field":"x","type":"quantitative","scale":{"domain":[-1.889,1.074],"nice":false,"zero":false},"axis":null},"y":{"field":"y","type":"quantitative","scale":{"domain":[-87,105.3],"nice":false,"zero":false},"axis":null},"text":{"field":"label"}}},
    {"data":{"values":[{"x":1.185,"y":7.3,"label":"20 mV"}]},
     "mark":{"type":"text","align":"center","baseline":"middle","angle":270,"fontSize":5.8,"color":"#333333"},
     "encoding":{"x":{"field":"x","type":"quantitative","scale":{"domain":[-1.889,1.074],"nice":false,"zero":false},"axis":null},"y":{"field":"y","type":"quantitative","scale":{"domain":[-87,105.3],"nice":false,"zero":false},"axis":null},"text":{"field":"label"}}},
    {"data":{"values":[{"x":1.555,"y":-14.4,"label":"500 ms"}]},
     "mark":{"type":"text","align":"center","baseline":"middle","fontSize":5.8,"color":"#333333"},
     "encoding":{"x":{"field":"x","type":"quantitative","scale":{"domain":[-1.889,1.074],"nice":false,"zero":false},"axis":null},"y":{"field":"y","type":"quantitative","scale":{"domain":[-87,105.3],"nice":false,"zero":false},"axis":null},"text":{"field":"label"}}}
   ]}
],
"config":{
 "font":"Liberation Sans",
 "view":{"stroke":null},
 "axis":{"domainColor":"#808080","domainWidth":0.8,"tickColor":"#808080","tickWidth":0.8,"tickSize":3,"labelColor":"#333333","labelFontSize":6.5,"titleFontSize":7.3,"titleFontWeight":"normal","titleColor":"#222222","grid":false,"labelPadding":2},
 "legend":{"padding":0,"labelFontSize":6.5,"labelColor":"#222222","symbolType":"M-2,-0.7H2V0.7H-2Z","symbolSize":49,"symbolStrokeColor":"#333333","symbolStrokeWidth":0.5,"rowPadding":0,"symbolOpacity":1},
 "text":{"font":"Liberation Sans"}
}
}
